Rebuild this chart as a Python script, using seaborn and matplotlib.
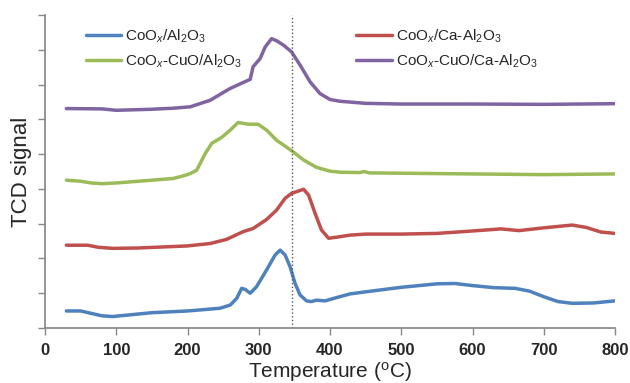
#!/usr/bin/env python3
"""TPR profiles (TCD signal vs temperature) for four cobalt catalysts."""
import matplotlib
matplotlib.use("Agg")
import matplotlib.pyplot as plt
import pandas as pd
import seaborn as sns
from matplotlib.lines import Line2D

# Excel-2007 style series colours
COLORS = {"blue": "#4F81BD", "red": "#C0504D", "green": "#9BBB59", "purple": "#8064A2"}

# --- data (temperature in degC, signal in arbitrary offset units)
blue_t = [30, 50, 65, 80, 95, 120, 150, 200, 218, 246, 260, 269, 276, 281, 288, 297, 311, 323,
          330, 337, 344, 351, 358, 367, 374, 381, 393, 405, 428, 450, 500, 550, 575, 600, 630,
          660, 680, 700, 720, 740, 770, 800]
blue_y = [0.49, 0.49, 0.42, 0.35, 0.33, 0.38, 0.44, 0.49, 0.52, 0.57, 0.66, 0.85, 1.14, 1.11,
          1.00, 1.19, 1.67, 2.10, 2.24, 2.10, 1.76, 1.28, 0.95, 0.78, 0.76, 0.80, 0.78, 0.85, 0.98,
          1.04, 1.17, 1.27, 1.28, 1.22, 1.16, 1.14, 1.06, 0.90, 0.76, 0.71, 0.72, 0.78]

red_t = [30, 60, 75, 95, 130, 200, 232, 255, 278, 292, 311, 325, 337, 346, 353, 363, 370, 379,
         388, 398, 409, 428, 450, 500, 550, 600, 640, 665, 700, 740, 760, 780, 800]
red_y = [2.38, 2.38, 2.32, 2.29, 2.30, 2.36, 2.43, 2.55, 2.77, 2.86, 3.12, 3.39, 3.73, 3.87, 3.92,
         3.99, 3.82, 3.30, 2.82, 2.58, 2.61, 2.67, 2.70, 2.70, 2.72, 2.79, 2.85, 2.80, 2.88, 2.96,
         2.89, 2.76, 2.72]

green_t = [30, 50, 65, 80, 100, 150, 180, 195, 204, 213, 225, 234, 248, 260, 271, 285, 299, 311,
           325, 346, 363, 381, 400, 414, 442, 448, 455, 500, 600, 700, 800]
green_y = [4.25, 4.22, 4.17, 4.15, 4.17, 4.25, 4.30, 4.38, 4.44, 4.54, 5.02, 5.31, 5.48, 5.69,
           5.91, 5.86, 5.86, 5.69, 5.40, 5.10, 4.83, 4.62, 4.51, 4.48, 4.47, 4.50, 4.46, 4.45,
           4.43, 4.41, 4.43]

purple_t = [30, 80, 100, 150, 180, 204, 232, 260, 288, 292, 302, 309, 318, 325, 335, 346, 358,
            372, 386, 400, 414, 450, 500, 600, 700, 800]
purple_y = [6.31, 6.30, 6.26, 6.29, 6.32, 6.36, 6.55, 6.89, 7.15, 7.51, 7.75, 8.08, 8.32, 8.26,
            8.13, 7.94, 7.56, 7.08, 6.74, 6.57, 6.52, 6.46, 6.44, 6.44, 6.43, 6.45]

labels = {
    "blue": r"CoO$_x$/Al$_2$O$_3$",
    "green": r"CoO$_x$-CuO/Al$_2$O$_3$",
    "red": r"CoO$_x$/Ca-Al$_2$O$_3$",
    "purple": r"CoO$_x$-CuO/Ca-Al$_2$O$_3$",
}
x_ticks = [0, 100, 200, 300, 400, 500, 600, 700, 800]
marker_temp = 347


def build_frame() -> pd.DataFrame:
    parts = []
    for key, t, y in [("blue", blue_t, blue_y), ("green", green_t, green_y),
                      ("red", red_t, red_y), ("purple", purple_t, purple_y)]:
        parts.append(pd.DataFrame({"temp": t, "signal": y, "sample": labels[key]}))
    return pd.concat(parts, ignore_index=True)


def main() -> None:
    sns.set_theme(style="ticks")
    plt.rcParams["font.family"] = ["Liberation Sans", "DejaVu Sans"]
    plt.rcParams["mathtext.fontset"] = "custom"
    plt.rcParams["mathtext.rm"] = "Liberation Sans"
    plt.rcParams["mathtext.it"] = "Liberation Sans:italic"

    df = build_frame()
    fig = plt.figure(figsize=(6.3, 3.83), dpi=100)
    ax = fig.add_axes([45 / 630, 55 / 383, 570 / 630, 313 / 383])

    palette = {labels[k]: c for k, c in COLORS.items()}
    sns.lineplot(data=df, x="temp", y="signal", hue="sample", palette=palette,
                 linewidth=2.5, sort=True, ax=ax, legend=False,
                 solid_joinstyle="round", solid_capstyle="round")

    ax.axvline(marker_temp, color="#555555", linestyle=":", linewidth=1.0)

    ax.set_xlim(0, 800)
    ax.set_ylim(0, 9)
    ax.set_xticks(x_ticks)
    ax.set_xticklabels([str(v) for v in x_ticks], fontsize=12, fontweight="bold")
    ax.set_yticks(range(0, 10))
    ax.set_yticklabels([])
    ax.tick_params(axis="both", color="#888888", length=5, width=1)
    ax.tick_params(axis="x", pad=6)
    for side in ("left", "bottom"):
        ax.spines[side].set_color("#888888")
    sns.despine(ax=ax)

    ax.set_xlabel(r"Temperature ($^{\rm o}$C)", fontsize=15, labelpad=1)
    ax.set_ylabel("TCD signal", fontsize=16, labelpad=1)

    # two legend blocks, as in the reference
    left = [Line2D([], [], color=COLORS[k], lw=2.5) for k in ("blue", "green")]
    right = [Line2D([], [], color=COLORS[k], lw=2.5) for k in ("red", "purple")]
    kw = dict(loc="upper left", frameon=False, fontsize=11, handlelength=2.3,
              handletextpad=0.3, labelspacing=0.5, borderpad=0)
    leg1 = ax.legend(left, [labels["blue"], labels["green"]],
                     bbox_to_anchor=(0.058, 0.985), **kw)
    ax.add_artist(leg1)
    ax.legend(right, [labels["red"], labels["purple"]],
              bbox_to_anchor=(0.533, 0.985), **kw)

    fig.savefig("out.png", dpi=100)
    plt.close(fig)


if __name__ == "__main__":
    main()
